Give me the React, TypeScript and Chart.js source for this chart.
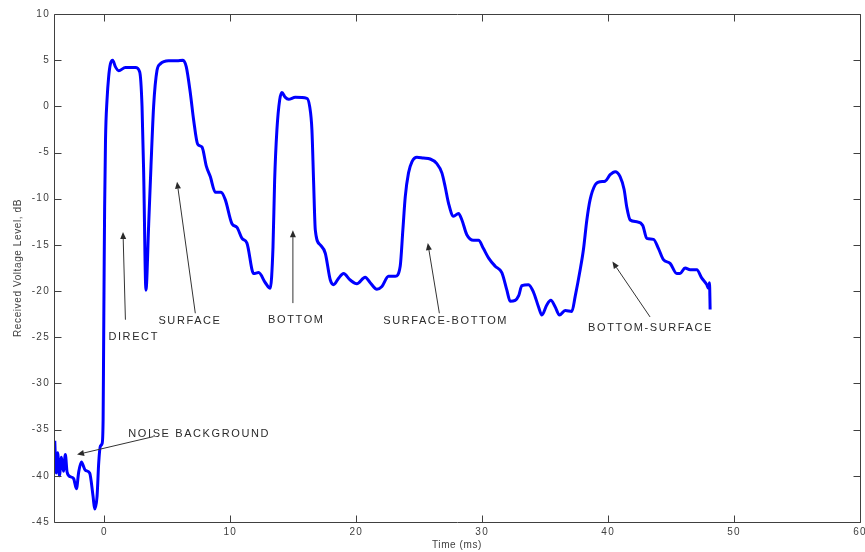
import React, { useEffect, useRef } from "react";
import { Chart, registerables } from "chart.js";

Chart.register(...registerables);

// Received level trace
const timeMs = [
  -3.94, -3.83, -3.71, -3.57, -3.41, -3.25, -3.1, -2.96, -2.7, -2.44, -2.22, -2.04, -1.83, -1.51, -1.17,
  -0.9, -0.77, -0.58, -0.45, -0.32, -0.18, -0.1, -0.06, -0.02, 0.02, 0.09, 0.21, 0.34, 0.48, 0.66, 0.87, 1.14, 1.67,
  2.46, 2.8, 2.99, 3.12, 3.3, 3.52, 3.7, 3.91, 4.18, 4.44, 5.1, 5.77, 6.24, 6.5, 6.83, 7.09, 7.41, 7.75, 8.1,
  8.41, 8.81, 9.26, 9.6, 10.13, 10.53, 10.93, 11.32, 11.85, 12.25, 12.78, 13.17, 13.39, 13.52, 13.7, 13.92,
  14.1, 14.35, 14.63, 15.16, 16.08, 16.3, 16.48, 16.61, 16.75, 17.14, 17.54, 17.94, 18.2, 18.6, 18.99, 19.52,
  20.05, 20.71, 21.11, 21.64, 22.04, 22.56, 23.1, 23.49, 23.7, 23.89, 24.15, 24.42, 24.82, 25.34, 25.87, 26.4,
  26.8, 27.06, 27.33, 27.72, 28.12, 28.39, 28.78, 29.31, 29.71, 30.1, 30.5, 31.03, 31.56, 31.96, 32.22, 32.62,
  32.9, 33.15, 33.68, 34.07, 34.47, 34.74, 35.13, 35.45, 35.79, 36.14, 36.59, 37.12, 37.38, 37.78, 38.04,
  38.31, 38.57, 38.97, 39.37, 39.76, 40.16, 40.56, 40.95, 41.27, 41.48, 41.75, 42.28, 42.75, 43.07, 43.6,
  44.0, 44.39, 44.92, 45.45, 45.71, 46.11, 46.51, 47.04, 47.44, 47.83, 47.96, 48.05, 48.1,
];
const levelDb = [
  -36.2, -39.7, -37.5, -40.0, -38.0, -39.5, -37.7, -39.6, -40.1, -40.3, -41.4, -39.6, -38.5, -39.4, -39.7,
  -42.2, -43.6, -42.2, -38.6, -36.8, -36.5, -33.9, -26.0, -18.0, -11.0, -3.6, 0.7, 3.2, 4.6, 5.0, 4.3, 3.86, 4.2,
  4.2, 3.75, 0.0, -7.2, -19.9, -12.7, -6.5, 0.0, 3.9, 4.6, 4.95, 4.95, 5.0, 4.3, 1.4, -1.5, -4.1, -4.4, -6.5,
  -7.6, -9.3, -9.3, -10.1, -12.7, -13.1, -14.3, -14.8, -18.1, -18.0, -19.1, -19.7, -15.2, -8.0, -2.55, 0.7,
  1.5, 1.0, 0.77, 0.98, 0.87, 0.0, -2.55, -8.0, -13.4, -15.0, -15.9, -18.8, -19.3, -18.6, -18.1, -18.8,
  -19.2, -18.5, -19.1, -19.8, -19.5, -18.4, -18.4, -17.3, -13.4, -9.8, -7.2, -6.0, -5.5, -5.6, -5.7, -6.2,
  -7.2, -8.7, -10.5, -11.9, -11.6, -12.3, -13.9, -14.5, -14.5, -15.4, -16.4, -17.3, -18.0, -19.9, -21.1, -21.0,
  -20.5, -19.4, -19.3, -20.1, -21.7, -22.6, -21.5, -21.0, -21.7, -22.6, -22.1, -22.2, -20.6, -17.7, -15.5,
  -12.3, -10.1, -8.5, -8.15, -8.1, -7.4, -7.07, -7.6, -9.0, -10.9, -12.3, -12.5, -12.9, -14.3, -14.4,
  -15.4, -16.6, -17.0, -18.1, -18.1, -17.5, -17.7, -17.7, -18.6, -19.3, -19.7, -19.1, -22.0,
];

// Axis ticks
const xTickValues = [0, 10, 20, 30, 40, 50, 60];
const yTickValues = [-45, -40, -35, -30, -25, -20, -15, -10, -5, 0, 5, 10];

// Annotations (text anchor and arrow, in data units)
const annotationLabels = ["DIRECT", "SURFACE", "BOTTOM", "SURFACE-BOTTOM", "BOTTOM-SURFACE", "NOISE BACKGROUND"];
const labelTime = [0.32, 4.29, 13.0, 22.14, 38.41, 1.9];
const labelLevel = [-24.95, -23.2, -23.1, -23.2, -24.0, -35.45];
const arrowTailTime = [1.67, 7.22, 14.97, 26.6, 43.33, 3.91];
const arrowTailLevel = [-23.1, -22.4, -21.3, -22.4, -22.8, -35.75];
const arrowHeadTime = [1.48, 5.77, 14.97, 25.68, 40.34, -2.17];
const arrowHeadLevel = [-13.6, -8.15, -13.4, -14.8, -16.8, -37.7];

const FONT = "'Liberation Sans', Arial, sans-serif";
const INK = "#404040";

const spacingPlugin = {
  id: "spacing",
  beforeDraw(chart: any) {
    const ctx = chart.ctx;
    for (const s of Object.values(chart.scales) as any[]) {
      if (s._wrapped) continue;
      const dl = s.drawLabels.bind(s);
      const dt = s.drawTitle.bind(s);
      s.drawLabels = (...a: any[]) => {
        ctx.save();
        ctx.letterSpacing = "1.3px";
        dl(...a);
        ctx.restore();
      };
      s.drawTitle = (...a: any[]) => {
        ctx.save();
        ctx.letterSpacing = "0.6px";
        dt(...a);
        ctx.restore();
      };
      s._wrapped = true;
    }
  },
};

const framePlugin = {
  id: "frame",
  afterDraw(chart: any) {
    const ctx = chart.ctx;
    const { left, right, top, bottom } = chart.chartArea;
    const xs = chart.scales.x;
    const ys = chart.scales.y;
    const L = Math.round(left) + 0.5;
    const R = Math.round(right) + 0.5;
    const T = Math.round(top) + 0.5;
    const B = Math.round(bottom) + 0.5;
    ctx.save();
    ctx.strokeStyle = "#404040";
    ctx.lineWidth = 1;
    ctx.beginPath();
    ctx.rect(L, T, R - L, B - T);
    const tl = 7;
    for (const t of xs.ticks) {
      const px = Math.round(xs.getPixelForValue(t.value)) + 0.5;
      ctx.moveTo(px, B);
      ctx.lineTo(px, B - tl);
      ctx.moveTo(px, T);
      ctx.lineTo(px, T + tl);
    }
    for (const t of ys.ticks) {
      const py = Math.round(ys.getPixelForValue(t.value)) + 0.5;
      ctx.moveTo(L, py);
      ctx.lineTo(L + tl, py);
      ctx.moveTo(R, py);
      ctx.lineTo(R - tl, py);
    }
    ctx.stroke();

    // annotations
    ctx.font = `11px ${FONT}`;
    (ctx as any).letterSpacing = "1.6px";
    ctx.fillStyle = "#2a2a2a";
    ctx.textBaseline = "middle";
    ctx.textAlign = "left";
    for (let i = 0; i < annotationLabels.length; i++) {
      ctx.fillText(annotationLabels[i], xs.getPixelForValue(labelTime[i]), ys.getPixelForValue(labelLevel[i]));
      const x0 = xs.getPixelForValue(arrowTailTime[i]);
      const y0 = ys.getPixelForValue(arrowTailLevel[i]);
      const x1 = xs.getPixelForValue(arrowHeadTime[i]);
      const y1 = ys.getPixelForValue(arrowHeadLevel[i]);
      const ang = Math.atan2(y1 - y0, x1 - x0);
      const hl = 7;
      const hw = 3;
      ctx.strokeStyle = "#333333";
      ctx.beginPath();
      ctx.moveTo(x0, y0);
      ctx.lineTo(x1 - Math.cos(ang) * hl, y1 - Math.sin(ang) * hl);
      ctx.stroke();
      ctx.beginPath();
      ctx.moveTo(x1, y1);
      ctx.lineTo(x1 - Math.cos(ang) * hl - Math.sin(ang) * hw, y1 - Math.sin(ang) * hl + Math.cos(ang) * hw);
      ctx.lineTo(x1 - Math.cos(ang) * hl + Math.sin(ang) * hw, y1 - Math.sin(ang) * hl - Math.cos(ang) * hw);
      ctx.closePath();
      ctx.fill();
    }
    ctx.restore();
  },
};

export default function App() {
  const ref = useRef<HTMLCanvasElement | null>(null);
  useEffect(() => {
    document.body.style.margin = "0";
    if (!ref.current) return;
    const points = timeMs.map((t, i) => ({ x: t, y: levelDb[i] }));
    const chart = new Chart(ref.current, {
      type: "line",
      data: {
        datasets: [
          {
            data: points,
            borderColor: "#0000ff",
            borderWidth: 3,
            pointRadius: 0,
            cubicInterpolationMode: "monotone",
            fill: false,
          },
        ],
      },
      options: {
        animation: false,
        responsive: true,
        maintainAspectRatio: false,
        layout: { padding: { top: 14, right: 5, left: 0, bottom: 0 } },
        plugins: { legend: { display: false }, tooltip: { enabled: false } },
        scales: {
          x: {
            type: "linear",
            min: -4,
            max: 60,
            afterBuildTicks: (s: any) => {
              s.ticks = xTickValues.map((v) => ({ value: v }));
            },
            afterFit: (s: any) => {
              s.height = 30;
              s.paddingLeft = 0;
              s.paddingRight = 0;
            },
            grid: { display: false, drawTicks: false },
            border: { display: false },
            ticks: { font: { family: FONT, size: 10 }, color: INK, padding: 4, maxRotation: 0, autoSkip: false },
            title: {
              display: true,
              text: "Time (ms)",
              font: { family: FONT, size: 10 },
              color: INK,
              padding: { top: 0, bottom: 1 },
            },
          },
          y: {
            type: "linear",
            min: -45,
            max: 10,
            afterBuildTicks: (s: any) => {
              s.ticks = yTickValues.map((v) => ({ value: v }));
            },
            afterFit: (s: any) => {
              s.width = 54;
              s.paddingTop = 0;
              s.paddingBottom = 0;
            },
            grid: { display: false, drawTicks: false },
            border: { display: false },
            ticks: { font: { family: FONT, size: 10 }, color: INK, padding: 4, autoSkip: false },
            title: {
              display: true,
              text: "Received Voltage Level, dB",
              font: { family: FONT, size: 10 },
              color: INK,
              padding: { top: 12, bottom: 0 },
            },
          },
        },
      },
      plugins: [spacingPlugin, framePlugin],
    } as any);
    return () => chart.destroy();
  }, []);
  return (
    <div style={{ width: 865, height: 552, position: "relative", background: "#fff" }}>
      <canvas ref={ref} />
    </div>
  );
}
